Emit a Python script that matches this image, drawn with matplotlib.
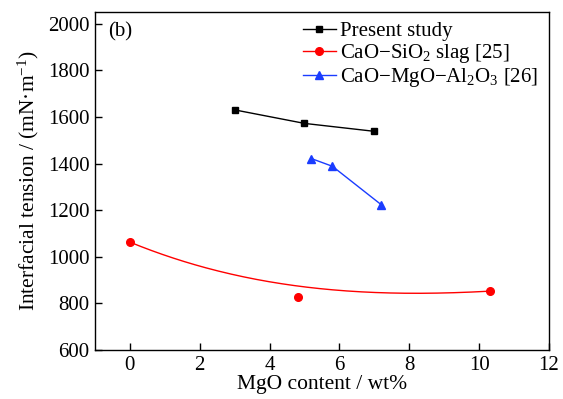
import numpy as np
import matplotlib
matplotlib.use("Agg")
import matplotlib.pyplot as plt
from matplotlib.lines import Line2D

plt.rcParams['font.family'] = ['Liberation Serif', 'DejaVu Serif']
plt.rcParams['mathtext.fontset'] = 'custom'
plt.rcParams['mathtext.rm'] = 'Liberation Serif'
plt.rcParams['mathtext.it'] = 'Liberation Serif:italic'
plt.rcParams['mathtext.bf'] = 'Liberation Serif:bold'

# Data
present_x = [3.0, 5.0, 7.0]
present_y = [1630, 1572, 1538]
cs_x = [0.0, 4.8, 10.3]
cs_y = [1062, 828, 852]
cma_x = [5.2, 5.8, 7.2]
cma_y = [1421, 1388, 1223]
# fitted curve anchor points (CaO-SiO2 trend)
fit_x = [0.0, 2.0, 4.6, 7.5, 10.3]
fit_y = [1062, 962, 876, 846, 852]

fig = plt.figure(figsize=(5.63, 3.99), dpi=100)
ax = fig.add_axes([0.1687, 0.1228, 0.975 - 0.1687, 0.97 - 0.1228])

ax.plot(present_x, present_y, color='black', marker='s', markersize=5, lw=1)
ax.plot(cs_x, cs_y, color='red', marker='o', markersize=5.5, lw=0)
coef = np.polyfit(fit_x, fit_y, 3)
xx = np.linspace(min(fit_x), max(fit_x), 200)
ax.plot(xx, np.polyval(coef, xx), color='red', lw=1)
ax.plot(cma_x, cma_y, color='#1a3cff', marker='^', markersize=6, lw=1)

handles = [
    Line2D([], [], color='black', marker='s', markersize=5, lw=1),
    Line2D([], [], color='red', marker='o', markersize=5.5, lw=1),
    Line2D([], [], color='#1a3cff', marker='^', markersize=6, lw=1),
]
labels = ['Present study', 'CaO\u2212SiO$_2$ slag [25]', 'CaO\u2212MgO\u2212Al$_2$O$_3$ [26]']
ax.legend(handles, labels, loc='upper right', frameon=False, fontsize=15,
          handlelength=1.6, handletextpad=0.2, labelspacing=0.05,
          borderaxespad=0.0, bbox_to_anchor=(0.995, 0.997))

ax.set_xlim(-1, 12)
ax.set_ylim(600, 2050)
ax.set_xticks([0, 2, 4, 6, 8, 10, 12])
ax.set_yticks([600, 800, 1000, 1200, 1400, 1600, 1800, 2000])
ax.tick_params(direction='in', labelsize=15, length=5, width=1, pad=4)
ax.set_xlabel('MgO content / wt%', fontsize=15.5, labelpad=0)
ax.set_ylabel('Interfacial tension / (mN\u00b7m$^{-1}$)', fontsize=15.5, labelpad=5)
for s in ax.spines.values():
    s.set_linewidth(1)
ax.text(0.028, 0.97, '(b)', transform=ax.transAxes, fontsize=15, va='top', ha='left')

fig.savefig('out.png', dpi=100)
